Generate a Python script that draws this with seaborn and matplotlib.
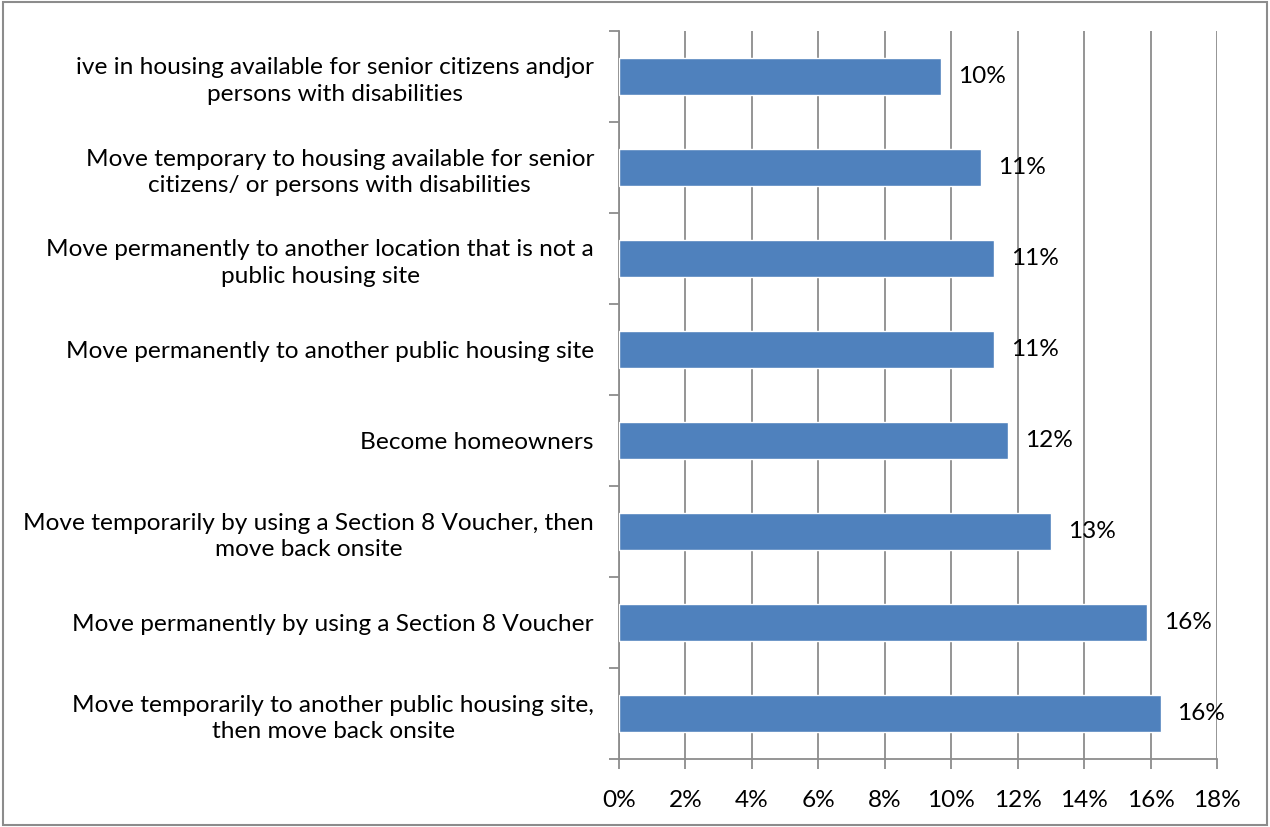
import matplotlib
matplotlib.use("Agg")
import matplotlib.pyplot as plt
import seaborn as sns
import pandas as pd
from matplotlib.ticker import MultipleLocator, FuncFormatter
from matplotlib.patches import Rectangle

categories = [
    "ive in housing available for senior citizens andjor\npersons with disabilities",
    "Move temporary to housing available for senior\ncitizens/ or persons with disabilities",
    "Move permanently to another location that is not a\npublic housing site",
    "Move permanently to another public housing site",
    "Become homeowners",
    "Move temporarily by using a Section 8 Voucher, then\nmove back onsite",
    "Move permanently by using a Section 8 Voucher",
    "Move temporarily to another public housing site,\nthen move back onsite",
]
values = [9.7, 10.9, 11.3, 11.3, 11.7, 13.0, 15.9, 16.3]
labels = ["10%", "11%", "11%", "11%", "12%", "13%", "16%", "16%"]

sns.set_theme(style="white")
plt.rcParams["font.family"] = ["Lato", "DejaVu Sans"]

FS = 17.6

df = pd.DataFrame({"cat": categories, "val": values})

fig = plt.figure(figsize=(12.7, 8.27), dpi=100)
ax = fig.add_axes([619 / 1270, 1 - 759 / 827, (1217 - 619) / 1270, (759 - 31) / 827])

sns.barplot(data=df, x="val", y="cat", orient="h", color="#4F81BD",
            saturation=1, width=0.4, ax=ax, zorder=3)

ax.set_xlim(0, 18)
ax.set_ylim(len(categories) - 0.5, -0.5)
ax.xaxis.set_major_locator(MultipleLocator(2))
ax.xaxis.set_major_formatter(FuncFormatter(lambda v, p: f"{int(round(v))}%"))
ax.grid(axis="x", color="#8C8C8C", linewidth=1.3, zorder=0)
ax.set_axisbelow(True)
ax.set_xlabel("")
ax.set_ylabel("")

for s in ["top", "right"]:
    ax.spines[s].set_visible(False)
for s in ["left", "bottom"]:
    ax.spines[s].set_color("#8C8C8C")
    ax.spines[s].set_linewidth(1.3)

ax.set_yticks(range(len(categories)))
ax.set_yticklabels(categories, fontsize=FS, color="#000000", ha="right",
                   multialignment="center", linespacing=1.3)
ax.tick_params(axis="y", which="major", left=False, length=0, pad=18)
ax.set_yticks([i - 0.5 for i in range(len(categories) + 1)], minor=True)
ax.tick_params(axis="y", which="minor", left=True, length=7, color="#8C8C8C",
               width=1.3, direction="out")
ax.tick_params(axis="x", which="major", bottom=True, length=7, color="#8C8C8C",
               width=1.3, direction="out", labelsize=FS, labelcolor="#000000", pad=15)

for i, (v, lab) in enumerate(zip(values, labels)):
    ax.annotate(lab, xy=(v, i), xytext=(17, 0), textcoords="offset pixels",
                ha="left", va="center", fontsize=FS, color="#000000", zorder=4)

fig.patches.append(Rectangle((0.002, 0.003), 0.996, 0.994, transform=fig.transFigure,
                             fill=False, edgecolor="#8C8C8C", linewidth=1.5))

fig.savefig("out.png", dpi=100)
